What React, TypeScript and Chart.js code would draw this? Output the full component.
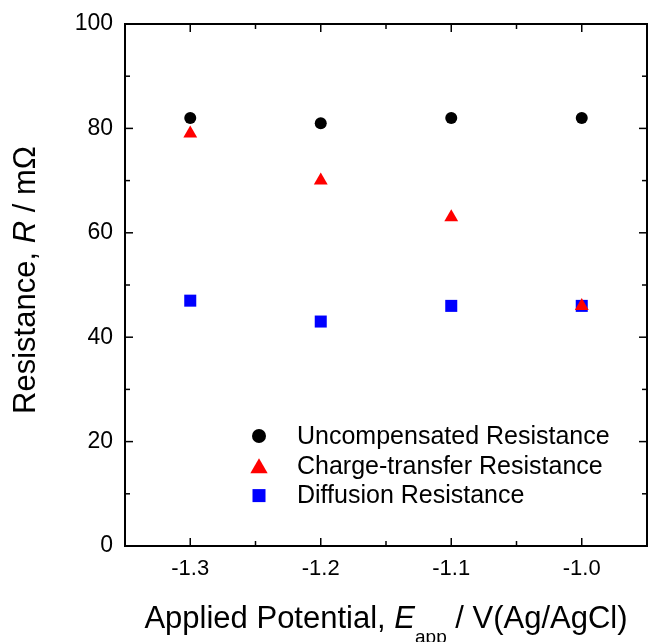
import React, { useEffect, useRef } from "react";
import { Chart, registerables } from "chart.js";

Chart.register(...registerables);

const potentials = [-1.3, -1.2, -1.1, -1.0];
const uncompensated = [82, 81, 82, 82];
const chargeTransfer = [79, 70, 63, 46];
const diffusion = [47, 43, 46, 46];
const xTicks = [-1.3, -1.2, -1.1, -1.0];
const yTicks = [0, 20, 40, 60, 80, 100];
const seriesLabels = [
  "Uncompensated Resistance",
  "Charge-transfer Resistance",
  "Diffusion Resistance",
];
const seriesColors = ["#000000", "#ff0000", "#0000ff"];
const seriesShapes = ["circle", "triangle", "rect"];
const seriesRadii = [6, 8, 8.5];
const legendRadii = [7, 10, 9.2];

const FONT = "'Liberation Sans', Arial, Helvetica, sans-serif";

function minorsOf(ticks: number[], min: number, max: number) {
  const out: number[] = [];
  const step = ticks[1] - ticks[0];
  const first = ticks[0] - step / 2;
  for (let v = first; v <= max + 1e-9; v += step) {
    if (v >= min - 1e-9) out.push(v);
  }
  return out;
}

type Seg = { text: string; font: string; dy?: number };

function drawRich(ctx: CanvasRenderingContext2D, segs: Seg[], cx: number, y: number) {
  let total = 0;
  const widths = segs.map((s) => {
    ctx.font = s.font;
    const w = ctx.measureText(s.text).width;
    total += w;
    return w;
  });
  let x = cx - total / 2;
  ctx.textAlign = "left";
  ctx.textBaseline = "alphabetic";
  segs.forEach((s, i) => {
    ctx.font = s.font;
    ctx.fillText(s.text, x, y + (s.dy || 0));
    x += widths[i];
  });
}

function drawMarker(ctx: CanvasRenderingContext2D, shape: string, x: number, y: number, r: number, color: string) {
  ctx.fillStyle = color;
  ctx.beginPath();
  if (shape === "circle") {
    ctx.arc(x, y, r, 0, Math.PI * 2);
  } else if (shape === "triangle") {
    let rad = 0;
    ctx.moveTo(x + Math.sin(rad) * r, y - Math.cos(rad) * r);
    rad += (2 * Math.PI) / 3;
    ctx.lineTo(x + Math.sin(rad) * r, y - Math.cos(rad) * r);
    rad += (2 * Math.PI) / 3;
    ctx.lineTo(x + Math.sin(rad) * r, y - Math.cos(rad) * r);
    ctx.closePath();
  } else {
    const s = r / Math.SQRT2;
    ctx.rect(x - s, y - s, 2 * s, 2 * s);
  }
  ctx.fill();
}

const framePlugin = {
  id: "frame",
  beforeDatasetsDraw(chart: any) {
    const { ctx, chartArea: a, scales } = chart;
    const x = scales.x;
    const y = scales.y;
    ctx.save();
    ctx.strokeStyle = "#000";
    ctx.lineWidth = 1.5;
    const major = 8;
    const minor = 5;
    const seg = (x1: number, y1: number, x2: number, y2: number) => {
      ctx.beginPath();
      ctx.moveTo(x1, y1);
      ctx.lineTo(x2, y2);
      ctx.stroke();
    };
    xTicks.forEach((v) => {
      const p = x.getPixelForValue(v);
      seg(p, a.bottom, p, a.bottom - major);
      seg(p, a.top, p, a.top + major);
    });
    minorsOf(xTicks, x.min, x.max).forEach((v) => {
      const p = x.getPixelForValue(v);
      seg(p, a.bottom, p, a.bottom - minor);
      seg(p, a.top, p, a.top + minor);
    });
    yTicks.forEach((v) => {
      const p = y.getPixelForValue(v);
      seg(a.left, p, a.left + major, p);
      seg(a.right, p, a.right - major, p);
    });
    minorsOf(yTicks, y.min, y.max).forEach((v) => {
      const p = y.getPixelForValue(v);
      seg(a.left, p, a.left + minor, p);
      seg(a.right, p, a.right - minor, p);
    });
    ctx.lineWidth = 2;
    ctx.strokeRect(a.left, a.top, a.right - a.left, a.bottom - a.top);
    ctx.restore();
  },
  afterDraw(chart: any) {
    const { ctx, chartArea: a } = chart;
    ctx.save();
    ctx.fillStyle = "#000";
    // legend
    const lx = a.left + 134;
    const ly = a.top + 412;
    const rowH = 29.8;
    seriesLabels.forEach((lab, i) => {
      const cy = ly + i * rowH;
      drawMarker(ctx, seriesShapes[i], lx, cy + (seriesShapes[i] === "triangle" ? 2.5 : 0), legendRadii[i], seriesColors[i]);
      ctx.fillStyle = "#000";
      ctx.font = `25px ${FONT}`;
      ctx.textAlign = "left";
      ctx.textBaseline = "middle";
      ctx.fillText(lab, lx + 38, cy + 1);
    });
    // x title
    ctx.fillStyle = "#000";
    drawRich(
      ctx,
      [
        { text: "Applied Potential, ", font: `31px ${FONT}` },
        { text: "E", font: `italic 31px ${FONT}` },
        { text: "app", font: `19px ${FONT}`, dy: 15 },
        { text: " / V(Ag/AgCl)", font: `31px ${FONT}` },
      ],
      (a.left + a.right) / 2,
      628
    );
    // y title
    ctx.save();
    ctx.translate(35, (a.top + a.bottom) / 2 - 5);
    ctx.rotate(-Math.PI / 2);
    drawRich(
      ctx,
      [
        { text: "Resistance, ", font: `31px ${FONT}` },
        { text: "R", font: `italic 31px ${FONT}` },
        { text: " / m\u03A9", font: `31px ${FONT}` },
      ],
      0,
      0
    );
    ctx.restore();
    ctx.restore();
  },
};

export default function App() {
  const ref = useRef<HTMLCanvasElement | null>(null);
  useEffect(() => {
    document.body.style.margin = "0";
    const canvas = ref.current;
    if (!canvas) return;
    const mk = (vals: number[]) => potentials.map((p, i) => ({ x: p, y: vals[i] }));
    const all = [uncompensated, chargeTransfer, diffusion];
    const chart = new Chart(canvas, {
      type: "scatter",
      data: {
        datasets: all.map((vals, i) => ({
          label: seriesLabels[i],
          data: mk(vals),
          pointStyle: seriesShapes[i] as any,
          pointRadius: seriesRadii[i],
          pointHoverRadius: seriesRadii[i],
          backgroundColor: seriesColors[i],
          borderColor: seriesColors[i],
          borderWidth: 0,
          showLine: false,
        })),
      },
      options: {
        responsive: false,
        animation: false,
        devicePixelRatio: 1,
        layout: { autoPadding: false, padding: { top: 24, right: 1, left: 0, bottom: 0 } },
        plugins: { legend: { display: false }, tooltip: { enabled: false } },
        scales: {
          x: {
            type: "linear",
            min: -1.35,
            max: -0.95,
            afterBuildTicks: (s: any) => {
              s.ticks = xTicks.map((v) => ({ value: v }));
            },
            afterFit: (s: any) => {
              s.height = 96;
              s.paddingLeft = 0;
              s.paddingRight = 0;
            },
            grid: { display: false, drawTicks: false },
            border: { display: false },
            ticks: {
              color: "#000",
              padding: 10,
              maxRotation: 0,
              font: { family: FONT, size: 22 },
              callback: (v: any) => Number(v).toFixed(1),
            },
          },
          y: {
            type: "linear",
            min: 0,
            max: 100,
            afterBuildTicks: (s: any) => {
              s.ticks = yTicks.map((v) => ({ value: v }));
            },
            afterFit: (s: any) => {
              s.width = 125;
              s.paddingTop = 0;
              s.paddingBottom = 0;
            },
            grid: { display: false, drawTicks: false },
            border: { display: false },
            ticks: {
              color: "#000",
              padding: 12,
              font: { family: FONT, size: 23 },
              callback: (v: any) => String(v),
            },
          },
        },
      },
      plugins: [framePlugin],
    });
    return () => chart.destroy();
  }, []);
  return (
    <div style={{ position: "absolute", left: 0, top: 0, width: 648, height: 642, background: "#fff" }}>
      <canvas ref={ref} width={648} height={642} style={{ display: "block" }} />
    </div>
  );
}
